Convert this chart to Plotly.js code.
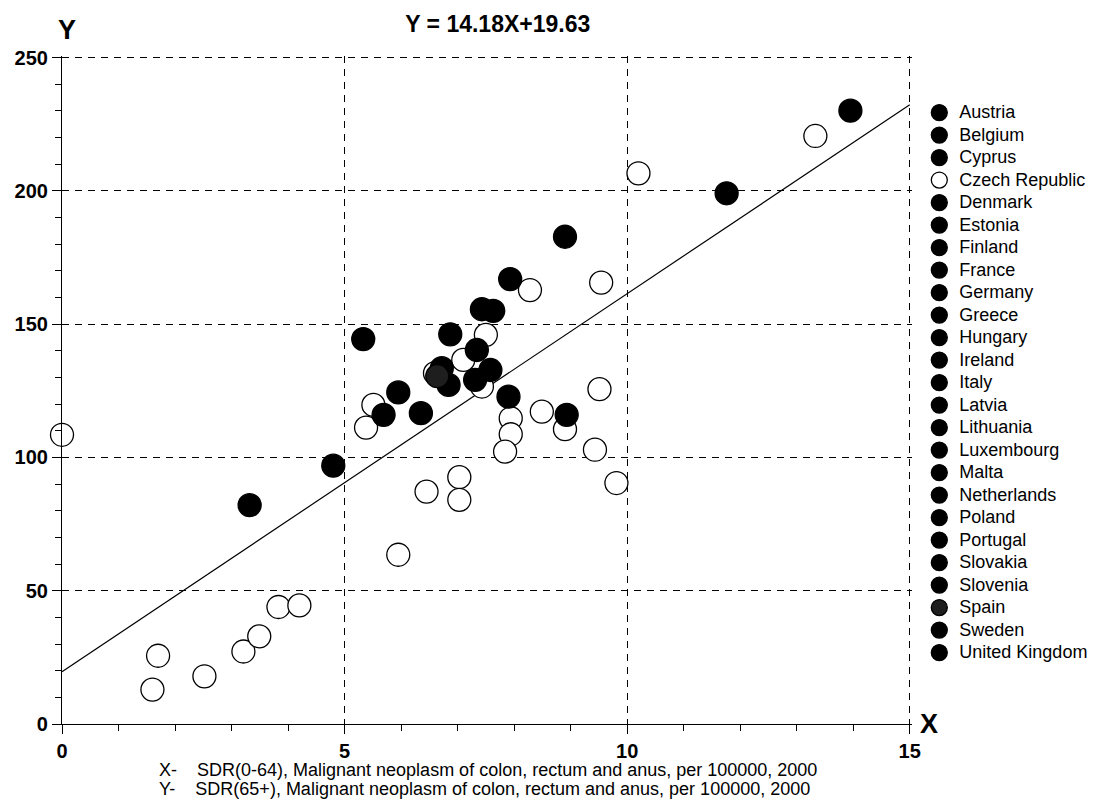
<!DOCTYPE html>
<html>
<head>
<meta charset="utf-8">
<script src="https://cdn.plot.ly/plotly-3.0.1.min.js"></script>
<style>
html, body { margin: 0; padding: 0; background: #ffffff; }
#chart { width: 1094px; height: 811px; }
.legend .legendtext { font-size: 18px !important; }
.legend .scrollbox { clip-path: none !important; }
</style>
</head>
<body>
<div id="chart"></div>
<script>
// ---- data ----
const countries = ["Austria", "Belgium", "Cyprus", "Czech Republic", "Denmark", "Estonia", "Finland", "France",
  "Germany", "Greece", "Hungary", "Ireland", "Italy", "Latvia", "Lithuania", "Luxembourg", "Malta",
  "Netherlands", "Poland", "Portugal", "Slovakia", "Slovenia", "Spain", "Sweden", "United Kingdom"];
const countryX = [6.84, 5.95, null, 13.33, 8.90, 7.43, null, 5.69,
  6.72, 3.32, 13.95, 7.58, 6.35, 7.63, 6.87, 8.93, null,
  7.34, 5.33, 7.90, 11.76, 7.93, 6.64, 4.80, 7.31];
const countryY = [127.2, 124.4, null, 220.6, 182.8, 155.6, null, 116.0,
  133.5, 82.1, 230.1, 132.8, 116.6, 155.0, 146.2, 116.0, null,
  140.3, 144.4, 122.8, 199.1, 166.9, 130.5, 96.9, 129.1];
const openCountries = ["Czech Republic"];
const greyCountries = ["Spain"];

// other regions (open circles, not in legend)
const otherX = [10.20, 8.28, 9.54, 7.50, 7.10, 6.60, 7.43, 5.51, 5.38, 7.94, 7.94, 7.84, 8.49, 8.90,
  9.51, 9.43, 9.81, 7.03, 7.03, 6.45, 5.95, 0.00, 1.60, 1.70, 2.52, 3.21, 3.49, 3.83, 4.20];
const otherY = [206.6, 162.8, 165.6, 146.0, 136.6, 131.6, 126.6, 119.7, 111.2, 114.7, 108.7, 102.2, 117.2, 110.6,
  125.6, 102.9, 90.4, 92.6, 84.1, 87.2, 63.5, 108.5, 12.9, 25.6, 17.9, 27.2, 32.9, 43.9, 44.5];

// regression  Y = 14.18X + 19.63
const slope = 14.18;
const intercept = 19.63;
const lineX = [0, 15];
const xRange = [0, 15.04];
const yRange = [0, 250.6];
const xTickVals = [0, 5, 10, 15];
const yTickVals = [0, 50, 100, 150, 200, 250];
const titleText = "Y = 14.18X+19.63";
const xNote = "X-    SDR(0-64), Malignant neoplasm of colon, rectum and anus, per 100000, 2000";
const yNote = "Y-    SDR(65+), Malignant neoplasm of colon, rectum and anus, per 100000, 2000";

// ---- traces ----
const FONT = "'Liberation Sans', Arial, sans-serif";
const MSIZE = 23;
const traces = [];

traces.push({
  type: "scatter", mode: "lines",
  x: lineX, y: lineX.map(v => slope * v + intercept),
  line: { color: "#000", width: 1.2 },
  showlegend: false, hoverinfo: "skip"
});

traces.push({
  type: "scatter", mode: "markers", name: "other",
  x: otherX, y: otherY,
  marker: { size: MSIZE, color: "#ffffff", line: { color: "#000", width: 1.3 } },
  showlegend: false, cliponaxis: false
});

countries.forEach((c, i) => {
  const isOpen = openCountries.includes(c);
  const isGrey = greyCountries.includes(c);
  traces.push({
    type: "scatter", mode: "markers", name: c,
    x: [countryX[i]], y: [countryY[i]],
    marker: {
      size: MSIZE,
      color: isOpen ? "#ffffff" : (isGrey ? "#1e1e1e" : "#000000"),
      line: { color: "#000", width: 1.3 }
    },
    cliponaxis: false
  });
});

const layout = {
  width: 1094, height: 811,
  paper_bgcolor: "#ffffff", plot_bgcolor: "#ffffff",
  margin: { l: 62, r: 182, t: 56, b: 87, pad: 0 },
  font: { family: FONT, color: "#000" },
  showlegend: true,
  title: {
    text: titleText, x: 0.455, xanchor: "center", y: 0.97, yanchor: "middle",
    font: { family: FONT, size: 23, weight: "bold", color: "#000" }
  },
  xaxis: {
    range: xRange, tickmode: "array", tickvals: xTickVals,
    showline: true, linecolor: "#000", linewidth: 1.2, mirror: false,
    zeroline: false,
    showgrid: true, gridcolor: "#000", gridwidth: 1, griddash: "7px,6px",
    ticks: "outside", ticklen: 9, tickwidth: 1.2, tickcolor: "#000",
    minor: { dtick: 1, ticks: "outside", ticklen: 6, tickwidth: 1, tickcolor: "#000", showgrid: false },
    tickfont: { family: FONT, size: 20, weight: "bold", color: "#000" },
    fixedrange: true
  },
  yaxis: {
    range: yRange, tickmode: "array", tickvals: yTickVals,
    showline: true, linecolor: "#000", linewidth: 1.2, mirror: false,
    zeroline: false,
    showgrid: true, gridcolor: "#000", gridwidth: 1, griddash: "7px,6px",
    ticks: "outside", ticklen: 9, tickwidth: 1.2, tickcolor: "#000",
    minor: { dtick: 10, ticks: "outside", ticklen: 6, tickwidth: 1, tickcolor: "#000", showgrid: false },
    tickfont: { family: FONT, size: 20, weight: "bold", color: "#000" },
    fixedrange: true
  },
  legend: {
    x: 1.0086, xanchor: "left", y: 0.9397, yanchor: "top",
    bgcolor: "rgba(0,0,0,0)", borderwidth: 0,
    font: { family: FONT, size: 15, color: "#000" },
    itemclick: false, itemdoubleclick: false, tracegroupgap: 0
  },
  annotations: [
    { text: "Y", xref: "paper", yref: "paper", x: 0.006, y: 1.0135, xanchor: "center", yanchor: "bottom",
      showarrow: false, font: { family: FONT, size: 27, weight: "bold", color: "#000" } },
    { text: "X", xref: "paper", yref: "paper", x: 1.0075, y: 0.0, xanchor: "left", yanchor: "middle",
      showarrow: false, font: { family: FONT, size: 27, weight: "bold", color: "#000" } },
    { text: xNote, xref: "paper", yref: "paper", x: 0.1118, y: -0.0689, xanchor: "left", yanchor: "middle",
      showarrow: false, font: { family: FONT, size: 18, color: "#000" } },
    { text: yNote, xref: "paper", yref: "paper", x: 0.1118, y: -0.0973, xanchor: "left", yanchor: "middle",
      showarrow: false, font: { family: FONT, size: 18, color: "#000" } }
  ]
};

Plotly.newPlot("chart", traces, layout, { displayModeBar: false, responsive: false });
</script>
</body>
</html>
